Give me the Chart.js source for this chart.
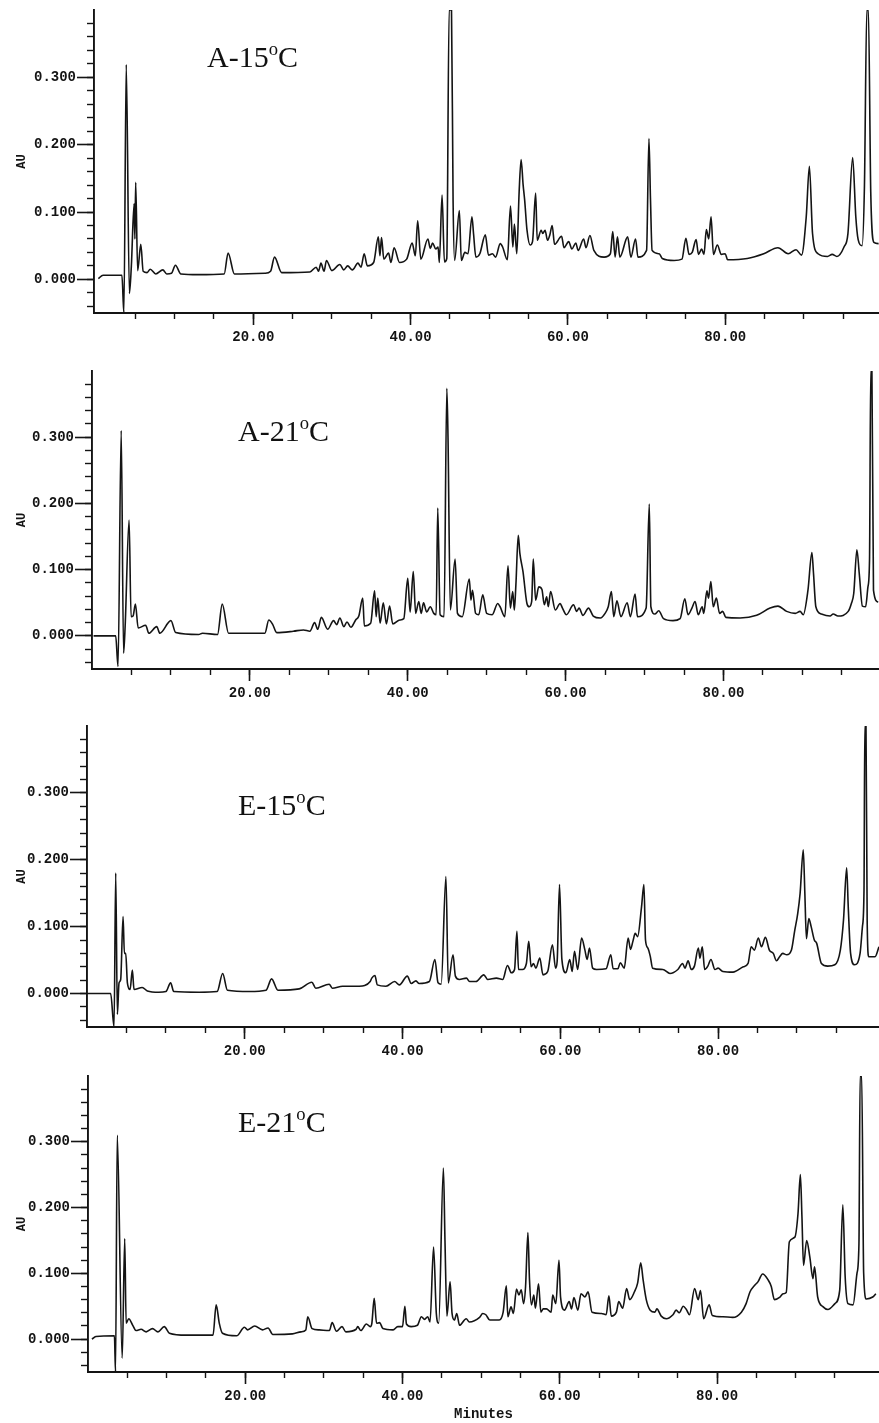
<!DOCTYPE html>
<html>
<head>
<meta charset="utf-8">
<title>HPLC chromatograms</title>
<script src="https://cdn.jsdelivr.net/npm/chart.js@4.4.1/dist/chart.umd.min.js"></script>
<style>
  html, body { margin: 0; padding: 0; background: #fff; }
  body { position: relative; width: 879px; height: 1423px; overflow: hidden; }
  canvas { position: absolute; left: 0; }
  .tag {
    position: absolute;
    font-family: "Liberation Serif", "Times New Roman", serif;
    font-size: 30px;
    line-height: 1;
    color: #111;
    white-space: nowrap;
  }
  .tag span { font-size: 62%; vertical-align: 0.62em; }
</style>
</head>
<body>
<canvas id="pA15" width="879" height="350" style="top:0px"></canvas>
<canvas id="pA21" width="879" height="346" style="top:360px"></canvas>
<canvas id="pE15" width="879" height="352" style="top:712px"></canvas>
<canvas id="pE21" width="879" height="357" style="top:1066px"></canvas>

<div class="tag" style="left:207px;top:40px">A-15<span>o</span>C</div>
<div class="tag" style="left:238px;top:414px">A-21<span>o</span>C</div>
<div class="tag" style="left:238px;top:788px">E-15<span>o</span>C</div>
<div class="tag" style="left:238px;top:1105px">E-21<span>o</span>C</div>

<script>
// ── Axis ticks ─────────────────────────────────────────────────────────────
var xMajorTicks = [20, 40, 60, 80];
var xMinorTicks = [5, 10, 15, 20, 25, 30, 35, 40, 45, 50, 55, 60, 65, 70, 75, 80, 85, 90, 95];
var yMajorTicks = [0, 0.1, 0.2, 0.3];
var yMinorTicks = [-0.04, -0.02, 0, 0.02, 0.04, 0.06, 0.08, 0.1, 0.12, 0.14, 0.16, 0.18,
                   0.2, 0.22, 0.24, 0.26, 0.28, 0.3, 0.32, 0.34, 0.36, 0.38];

// ── Traces: [minutes, AU] ──────────────────────────────────────────────────
var traceA15 = [
  [0.3,0.001],[0.9,0.006],[3.3,0.006],[3.55,-0.05],[3.85,0.319],[4.25,-0.021],[4.5,0.02],
  [4.85,0.112],[4.95,0.06],[5.05,0.144],[5.3,0.013],[5.7,0.052],[6.0,0.012],[6.5,0.01],
  [6.9,0.015],[7.6,0.008],[8.5,0.014],[9.0,0.008],[9.6,0.009],[10.1,0.021],[10.8,0.008],
  [13.0,0.007],[16.3,0.008],[16.8,0.039],[17.6,0.008],[21.5,0.009],[22.2,0.012],[22.7,0.033],
  [23.6,0.01],[27.2,0.011],[28.0,0.018],[28.3,0.012],[28.6,0.024],[29.0,0.012],[29.3,0.028],
  [30.0,0.013],[31.0,0.022],[31.5,0.014],[32.0,0.02],[32.6,0.014],[33.3,0.024],[33.7,0.018],
  [34.1,0.038],[34.5,0.02],[35.3,0.025],[35.9,0.063],[36.1,0.035],[36.3,0.062],[36.6,0.03],
  [37.2,0.039],[37.5,0.025],[37.9,0.047],[38.6,0.025],[39.5,0.03],[40.2,0.054],[40.6,0.035],
  [40.9,0.087],[41.3,0.03],[42.2,0.06],[42.5,0.046],[42.8,0.054],[43.2,0.045],[43.5,0.048],
  [43.65,0.025],[44.0,0.125],[44.3,0.026],[44.6,0.031],[44.9,0.40],[45.2,0.40],[45.4,0.118],
  [45.6,0.028],[46.2,0.102],[46.45,0.028],[46.9,0.04],[47.3,0.038],[47.8,0.093],[48.0,0.068],
  [48.3,0.033],[48.8,0.038],[49.5,0.066],[49.9,0.036],[50.4,0.038],[50.8,0.033],[51.4,0.053],
  [51.7,0.048],[52.3,0.029],[52.7,0.109],[53.0,0.048],[53.2,0.082],[53.5,0.038],[53.8,0.13],
  [54.05,0.178],[54.3,0.141],[54.5,0.118],[54.8,0.073],[55.2,0.051],[55.5,0.056],[55.9,0.128],
  [56.1,0.058],[56.6,0.073],[56.8,0.068],[57.1,0.073],[57.4,0.058],[57.7,0.066],[58.0,0.08],
  [58.3,0.052],[59.2,0.064],[59.5,0.047],[60.1,0.056],[60.5,0.045],[61.0,0.054],[61.3,0.043],
  [62.0,0.06],[62.3,0.047],[62.8,0.065],[63.3,0.043],[64.6,0.033],[65.4,0.038],[65.7,0.071],
  [66.0,0.033],[66.3,0.063],[66.6,0.033],[67.6,0.063],[68.0,0.033],[68.6,0.06],[68.9,0.033],
  [70.0,0.043],[70.3,0.209],[70.5,0.118],[70.7,0.043],[71.6,0.038],[72.0,0.031],[73.5,0.028],
  [74.5,0.03],[75.0,0.061],[75.4,0.037],[75.8,0.04],[76.3,0.059],[76.6,0.037],[77.0,0.045],
  [77.3,0.037],[77.6,0.074],[77.9,0.06],[78.2,0.093],[78.5,0.037],[79.0,0.051],[79.5,0.037],
  [80.0,0.038],[80.3,0.029],[82.8,0.031],[84.9,0.038],[86.7,0.047],[88.0,0.038],[89.0,0.044],
  [89.7,0.036],[90.3,0.093],[90.7,0.168],[91.1,0.068],[91.8,0.038],[93.0,0.034],[93.6,0.037],
  [94.2,0.034],[95.1,0.048],[95.6,0.068],[96.2,0.181],[96.6,0.093],[96.9,0.059],[97.4,0.05],
  [97.7,0.139],[98.0,0.40],[98.2,0.40],[98.5,0.13],[98.9,0.055],[99.5,0.053]
];

var traceA21 = [
  [0.2,0.0],[3.0,0.0],[3.3,-0.046],[3.7,0.31],[4.0,-0.026],[4.2,0.015],[4.7,0.175],[4.95,0.029],
  [5.2,0.03],[5.5,0.048],[5.85,0.012],[6.8,0.016],[7.2,0.004],[8.2,0.014],[8.6,0.004],[10.0,0.023],
  [10.6,0.005],[13.5,0.002],[14.0,0.004],[15.9,0.002],[16.5,0.048],[17.3,0.004],[21.9,0.004],
  [22.4,0.024],[22.9,0.017],[23.4,0.005],[25.5,0.007],[26.8,0.009],[27.6,0.007],[28.2,0.02],
  [28.6,0.01],[29.05,0.028],[29.85,0.01],[30.6,0.023],[31.0,0.017],[31.4,0.027],[31.9,0.014],
  [32.3,0.021],[32.8,0.013],[33.4,0.024],[33.8,0.03],[34.3,0.057],[34.5,0.015],[35.3,0.019],
  [35.8,0.068],[36.0,0.029],[36.2,0.057],[36.5,0.019],[36.9,0.05],[37.3,0.018],[37.7,0.045],
  [38.1,0.018],[39.0,0.024],[39.5,0.026],[40.0,0.087],[40.3,0.036],[40.7,0.097],[41.0,0.034],
  [41.4,0.052],[41.7,0.034],[42.0,0.05],[42.4,0.036],[42.85,0.044],[43.3,0.034],[43.6,0.032],
  [43.8,0.193],[44.1,0.032],[44.6,0.029],[44.95,0.374],[45.1,0.3],[45.4,0.039],[46.0,0.116],
  [46.3,0.034],[46.9,0.029],[47.8,0.086],[48.0,0.054],[48.2,0.069],[48.6,0.034],[49.0,0.032],
  [49.5,0.062],[50.0,0.034],[50.7,0.032],[51.4,0.049],[51.7,0.044],[52.3,0.029],[52.7,0.106],
  [53.0,0.042],[53.3,0.067],[53.5,0.039],[53.7,0.077],[54.0,0.152],[54.2,0.125],[54.6,0.097],
  [55.1,0.049],[55.4,0.044],[55.7,0.052],[55.9,0.116],[56.2,0.054],[56.6,0.074],[57.0,0.07],
  [57.3,0.047],[57.6,0.059],[57.8,0.044],[58.1,0.067],[58.7,0.039],[59.3,0.049],[59.6,0.042],
  [60.1,0.032],[61.0,0.047],[61.4,0.037],[61.7,0.042],[62.2,0.031],[62.9,0.042],[63.5,0.03],
  [64.4,0.027],[65.0,0.034],[65.4,0.044],[65.8,0.067],[66.1,0.029],[66.5,0.053],[67.0,0.029],
  [67.8,0.05],[68.2,0.029],[68.8,0.063],[69.1,0.029],[70.2,0.042],[70.6,0.199],[70.8,0.044],
  [71.3,0.033],[71.8,0.038],[72.4,0.026],[73.6,0.023],[74.5,0.026],[75.1,0.056],[75.5,0.032],
  [76.0,0.042],[76.4,0.052],[76.8,0.032],[77.3,0.044],[77.5,0.034],[77.9,0.068],[78.1,0.057],
  [78.4,0.082],[78.7,0.044],[79.1,0.057],[79.5,0.034],[79.9,0.037],[80.3,0.028],[82.1,0.027],
  [84.2,0.031],[85.9,0.042],[86.9,0.045],[88.0,0.037],[89.1,0.034],[89.7,0.037],[90.1,0.032],
  [90.7,0.069],[91.2,0.126],[91.4,0.095],[91.7,0.044],[92.4,0.033],[93.5,0.03],[93.9,0.033],
  [94.5,0.03],[95.8,0.037],[96.2,0.049],[96.5,0.064],[96.9,0.13],[97.2,0.094],[97.6,0.045],
  [98.0,0.044],[98.3,0.074],[98.5,0.115],[98.65,0.40],[98.8,0.40],[99.0,0.069],[99.6,0.051]
];

var traceE15 = [
  [0.0,0.0],[3.0,0.0],[3.43,-0.05],[3.64,0.18],[3.85,-0.031],[4.06,0.016],[4.27,0.021],
  [4.57,0.115],[4.74,0.06],[4.91,0.06],[5.12,0.016],[5.46,0.006],[5.75,0.035],[5.96,0.006],
  [7.0,0.009],[7.65,0.004],[9.1,0.002],[10.0,0.003],[10.6,0.016],[11.0,0.003],[14.2,0.002],
  [16.5,0.003],[17.2,0.03],[17.8,0.005],[20.6,0.003],[22.7,0.005],[23.4,0.022],[24.2,0.005],
  [26.9,0.007],[28.5,0.017],[29.0,0.008],[30.7,0.014],[31.1,0.008],[32.4,0.011],[34.5,0.011],
  [35.9,0.018],[36.1,0.023],[36.5,0.027],[36.8,0.013],[37.9,0.011],[39.0,0.018],[39.6,0.013],
  [40.6,0.026],[41.1,0.015],[41.7,0.019],[42.1,0.015],[43.4,0.018],[44.1,0.051],[44.5,0.016],
  [44.9,0.014],[45.5,0.175],[45.8,0.016],[46.4,0.058],[46.7,0.026],[47.2,0.021],[48.1,0.023],
  [48.5,0.018],[49.3,0.018],[50.3,0.028],[50.8,0.021],[51.9,0.023],[52.7,0.021],[53.3,0.042],
  [53.8,0.031],[54.2,0.036],[54.5,0.093],[54.7,0.036],[55.2,0.036],[55.7,0.045],[56.0,0.078],
  [56.3,0.04],[56.6,0.045],[56.9,0.038],[57.4,0.053],[57.8,0.028],[58.4,0.033],[59.0,0.073],
  [59.4,0.038],[59.6,0.048],[59.9,0.163],[60.2,0.051],[60.7,0.031],[61.2,0.051],[61.5,0.033],
  [61.8,0.063],[62.2,0.036],[62.7,0.083],[63.1,0.066],[63.4,0.051],[63.7,0.068],[64.1,0.038],
  [64.6,0.036],[65.8,0.037],[66.4,0.058],[66.7,0.037],[67.3,0.037],[67.6,0.046],[68.1,0.038],
  [68.6,0.083],[68.9,0.066],[69.2,0.078],[69.5,0.09],[69.8,0.085],[70.3,0.13],[70.6,0.163],
  [70.8,0.08],[71.1,0.068],[71.4,0.056],[71.7,0.038],[73.0,0.036],[73.9,0.03],[74.9,0.036],
  [75.5,0.045],[75.8,0.038],[76.2,0.049],[76.6,0.036],[77.0,0.041],[77.5,0.068],[77.7,0.053],
  [78.0,0.07],[78.3,0.036],[78.7,0.041],[79.1,0.051],[79.6,0.036],[80.0,0.038],[80.6,0.033],
  [81.9,0.032],[83.2,0.04],[83.8,0.045],[84.2,0.07],[84.6,0.065],[85.1,0.083],[85.5,0.07],
  [86.0,0.084],[86.5,0.065],[87.0,0.06],[87.4,0.049],[87.8,0.055],[88.2,0.06],[88.7,0.058],
  [89.3,0.065],[89.7,0.093],[90.1,0.12],[90.4,0.15],[90.8,0.215],[91.0,0.15],[91.2,0.082],
  [91.5,0.112],[91.8,0.1],[92.2,0.08],[92.5,0.075],[93.1,0.045],[93.9,0.041],[94.8,0.043],
  [95.5,0.065],[95.9,0.11],[96.3,0.188],[96.5,0.13],[96.8,0.06],[97.3,0.043],[98.0,0.06],
  [98.3,0.1],[98.5,0.155],[98.6,0.40],[98.75,0.40],[98.9,0.11],[99.1,0.055],[99.9,0.055],
  [100.4,0.07]
];

var traceE21 = [
  [0.5,0.0],[1.0,0.004],[3.36,0.005],[3.5,-0.05],[3.72,0.31],[4.35,-0.029],[4.67,0.153],
  [4.85,0.024],[5.18,0.031],[5.69,0.021],[6.1,0.013],[6.75,0.015],[7.4,0.011],[8.2,0.016],
  [8.9,0.011],[9.7,0.019],[10.35,0.009],[12.5,0.006],[15.9,0.006],[16.3,0.052],[16.7,0.024],
  [17.1,0.009],[18.9,0.005],[19.9,0.018],[20.3,0.014],[21.2,0.02],[22.2,0.014],[22.9,0.017],
  [23.5,0.007],[26.0,0.008],[27.1,0.011],[27.7,0.014],[27.95,0.034],[28.5,0.016],[29.4,0.014],
  [30.7,0.013],[31.05,0.025],[31.6,0.012],[32.3,0.019],[32.8,0.011],[34.1,0.015],[34.3,0.019],
  [34.7,0.013],[35.4,0.023],[35.9,0.019],[36.1,0.024],[36.4,0.062],[36.7,0.024],[37.1,0.025],
  [37.5,0.016],[38.8,0.014],[39.4,0.019],[40.0,0.019],[40.3,0.05],[40.5,0.023],[41.1,0.019],
  [41.9,0.021],[42.4,0.034],[42.8,0.03],[43.2,0.034],[43.5,0.026],[43.95,0.14],[44.3,0.039],
  [44.6,0.024],[45.2,0.26],[45.4,0.15],[45.65,0.035],[46.05,0.087],[46.3,0.039],[46.6,0.029],
  [46.9,0.039],[47.25,0.021],[48.1,0.031],[48.5,0.026],[49.8,0.033],[50.2,0.039],[50.6,0.037],
  [51.1,0.029],[52.3,0.029],[52.8,0.041],[53.2,0.081],[53.4,0.034],[53.8,0.049],[54.1,0.039],
  [54.5,0.076],[54.8,0.067],[55.1,0.075],[55.4,0.054],[55.65,0.08],[55.95,0.162],[56.15,0.09],
  [56.4,0.052],[56.7,0.067],[56.9,0.047],[57.3,0.084],[57.6,0.041],[57.9,0.046],[58.3,0.046],
  [58.9,0.041],[59.1,0.067],[59.5,0.054],[59.9,0.12],[60.1,0.064],[60.6,0.044],[61.2,0.057],
  [61.5,0.046],[61.8,0.063],[62.3,0.044],[62.7,0.069],[63.2,0.064],[63.6,0.072],[64.1,0.041],
  [65.3,0.039],[65.9,0.037],[66.25,0.066],[66.55,0.035],[67.2,0.041],[67.5,0.057],[68.0,0.047],
  [68.5,0.077],[68.9,0.06],[69.5,0.072],[69.9,0.085],[70.3,0.116],[70.6,0.09],[71.0,0.06],
  [71.5,0.044],[72.1,0.041],[72.35,0.046],[72.9,0.035],[73.55,0.031],[74.4,0.037],[74.8,0.044],
  [75.2,0.04],[75.7,0.05],[76.1,0.045],[76.5,0.037],[77.15,0.077],[77.6,0.06],[77.9,0.074],
  [78.3,0.031],[79.0,0.052],[79.4,0.036],[80.75,0.034],[82.0,0.033],[83.1,0.041],[83.7,0.054],
  [84.2,0.072],[84.8,0.082],[85.2,0.087],[85.8,0.099],[86.5,0.09],[86.9,0.08],[87.3,0.06],
  [88.0,0.064],[88.4,0.069],[88.8,0.071],[89.2,0.148],[89.9,0.155],[90.3,0.191],[90.6,0.25],
  [90.8,0.186],[91.0,0.112],[91.4,0.15],[91.8,0.125],[92.2,0.092],[92.4,0.11],[92.8,0.064],
  [93.5,0.049],[94.1,0.045],[95.0,0.054],[95.6,0.074],[96.0,0.204],[96.3,0.094],[96.65,0.054],
  [97.3,0.052],[97.8,0.1],[98.05,0.145],[98.2,0.40],[98.4,0.40],[98.65,0.1],[99.0,0.061],
  [99.8,0.064],[100.2,0.069]
];

(function () {
  'use strict';

  var INK  = '#141414';
  var MONO = "'Liberation Mono', 'DejaVu Sans Mono', monospace";

  // one entry per stacked chromatogram
  var PANELS = [
    { id: 'pA15', trace: traceA15, xMin: -0.25, xMax: 99.55, axisW: 94, padTop: 10, axisH: 37, minutes: false },
    { id: 'pA21', trace: traceA21, xMin: 0,     xMax: 99.7,  axisW: 92, padTop: 11, axisH: 37, minutes: false },
    { id: 'pE15', trace: traceE15, xMin: 0,     xMax: 100.4, axisW: 87, padTop: 14, axisH: 37, minutes: false },
    { id: 'pE21', trace: traceE21, xMin: 0,     xMax: 100.6, axisW: 88, padTop: 10, axisH: 51, minutes: true  }
  ];

  // ── Private helpers ─────────────────────────────────────────────────────
  function _fixTicks(values) {
    return function (scale) {
      scale.ticks = values.map(function (v) { return { value: v }; });
    };
  }
  function _setWidth(w)  { return function (scale) { scale.width = w; }; }
  function _setHeight(h) { return function (scale) { scale.height = h; }; }

  function _grid(len, width) {
    return { drawOnChartArea: false, drawTicks: true, tickLength: len, tickColor: INK, tickWidth: width };
  }

  // ── buildPanel ──────────────────────────────────────────────────────────
  function buildPanel(p) {
    var points = p.trace.map(function (d) { return { x: d[0], y: d[1] }; });

    return new Chart(document.getElementById(p.id), {
      type: 'line',
      data: {
        datasets: [{
          data: points, xAxisID: 'x', yAxisID: 'y',
          borderColor: INK, borderWidth: 1.6, pointRadius: 0,
          cubicInterpolationMode: 'monotone', fill: false
        }]
      },
      options: {
        responsive: false,
        animation: false,
        events: [],
        layout: { padding: { top: p.padTop, left: 0, right: 0, bottom: 0 } },
        plugins: { legend: { display: false }, tooltip: { enabled: false } },
        scales: {
          x: {
            type: 'linear', axis: 'x', position: 'bottom', weight: 1,
            min: p.xMin, max: p.xMax,
            afterBuildTicks: _fixTicks(xMajorTicks),
            afterFit: _setHeight(p.axisH),
            grid: _grid(12, 1.6),
            border: { display: true, color: INK, width: 1.9 },
            ticks: {
              color: INK, padding: 4, maxRotation: 0, autoSkip: false,
              font: { family: MONO, size: 14, weight: 'bold' },
              callback: function (v) { return Number(v).toFixed(2); }
            },
            title: {
              display: p.minutes, text: 'Minutes', color: INK,
              font: { family: MONO, size: 14, weight: 'bold' },
              padding: { top: 2, bottom: 0 }
            }
          },
          xMinor: {
            type: 'linear', axis: 'x', position: 'bottom', weight: 0,
            min: p.xMin, max: p.xMax,
            afterBuildTicks: _fixTicks(xMinorTicks),
            afterFit: _setHeight(0),
            grid: _grid(6, 1.4),
            border: { display: false },
            ticks: { display: false }
          },
          y: {
            type: 'linear', axis: 'y', position: 'left', weight: 1,
            min: -0.05, max: 0.40,
            afterBuildTicks: _fixTicks(yMajorTicks),
            afterFit: _setWidth(p.axisW),
            grid: _grid(17, 1.6),
            border: { display: true, color: INK, width: 1.9 },
            ticks: {
              color: INK, padding: 1,
              font: { family: MONO, size: 14, weight: 'bold' },
              callback: function (v) { return Number(v).toFixed(3); }
            },
            title: {
              display: true, text: 'AU', color: INK,
              font: { family: MONO, size: 12, weight: 'bold' },
              padding: { top: 15, bottom: 0 }
            }
          },
          yMinor: {
            type: 'linear', axis: 'y', position: 'left', weight: 0,
            min: -0.05, max: 0.40,
            afterBuildTicks: _fixTicks(yMinorTicks),
            afterFit: _setWidth(0),
            grid: _grid(7, 1.4),
            border: { display: false },
            ticks: { display: false }
          }
        }
      }
    });
  }

  // ── init ────────────────────────────────────────────────────────────────
  PANELS.forEach(buildPanel);
}());
</script>
</body>
</html>
